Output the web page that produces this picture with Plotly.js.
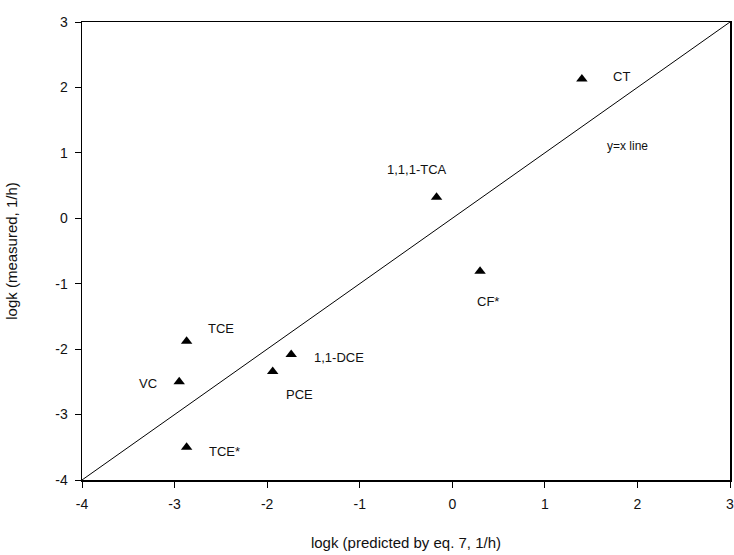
<!DOCTYPE html>
<html><head><meta charset="utf-8">
<script src="https://cdn.plot.ly/plotly-3.0.1.min.js"></script>
<style>body{margin:0;background:#fff}#chart{width:734px;height:555px}</style>
</head><body><div id="chart"></div>
<script>
const compounds = ["CT", "1,1,1-TCA", "CF*", "TCE", "VC", "1,1-DCE", "PCE", "TCE*"];
const predicted = [1.40, -0.17, 0.30, -2.87, -2.95, -1.74, -1.94, -2.87];
const measured  = [2.13, 0.32, -0.81, -1.88, -2.50, -2.08, -2.34, -3.50];
const lineX = [-4, 3];
const lineY = [-4, 3];
const tickVals = [-4, -3, -2, -1, 0, 1, 2, 3];
const tickText = ["-4", "-3", "-2", "-1", "0", "1", "2", "3"];

// label offsets in pixels (style only)
const labelDx = [40, -20, 8, 34, -31, 48, 27, 38];
const labelDy = [-2, -28, 30, -13, 2, 3, 23, 4];

const FONT = 'Liberation Sans, Arial, sans-serif';
const annotations = compounds.map((c, i) => ({
  x: predicted[i], y: measured[i], xref: 'x', yref: 'y', text: c,
  showarrow: false, xshift: labelDx[i], yshift: -labelDy[i],
  font: {family: FONT, size: 13, color: '#111'}
}));
annotations.push({x: 1.89, y: 1.11, xref: 'x', yref: 'y', text: 'y=x line', showarrow: false,
  font: {family: FONT, size: 12, color: '#111'}});

const traces = [
  {x: lineX, y: lineY, mode: 'lines', line: {color: '#000', width: 1}, hoverinfo: 'skip'},
  {x: predicted, y: measured, mode: 'markers', marker: {symbol: 'triangle-up', size: 10, color: '#000'}}
];

const axisFont = {family: FONT, size: 14, color: '#111'};
const layout = {
  width: 734, height: 555, showlegend: false,
  paper_bgcolor: '#fff', plot_bgcolor: '#fff',
  margin: {l: 82, r: 4, t: 22, b: 75},
  xaxis: {range: [-4, 3], tickvals: tickVals, ticktext: tickText, ticks: 'outside', ticklen: 6, tickcolor: '#000',
    ticklabelstandoff: 5, ticklabeloverflow: 'allow',
    showline: true, linecolor: '#000', linewidth: 1.5, mirror: true, showgrid: false, zeroline: false,
    tickfont: axisFont,
    title: {text: 'logk (predicted by eq. 7, 1/h)', font: {family: FONT, size: 15, color: '#111'}, standoff: 26}},
  yaxis: {range: [-4, 3], tickvals: tickVals, ticktext: tickText, ticks: 'outside', ticklen: 6, tickcolor: '#000',
    ticklabelstandoff: 4, ticklabeloverflow: 'allow',
    showline: true, linecolor: '#000', linewidth: 1.5, mirror: true, showgrid: false, zeroline: false,
    tickfont: axisFont,
    title: {text: 'logk (measured, 1/h)', font: {family: FONT, size: 15, color: '#111'}, standoff: 34}},
  annotations: annotations
};
Plotly.newPlot('chart', traces, layout, {displayModeBar: false, staticPlot: true});
</script></body></html>
